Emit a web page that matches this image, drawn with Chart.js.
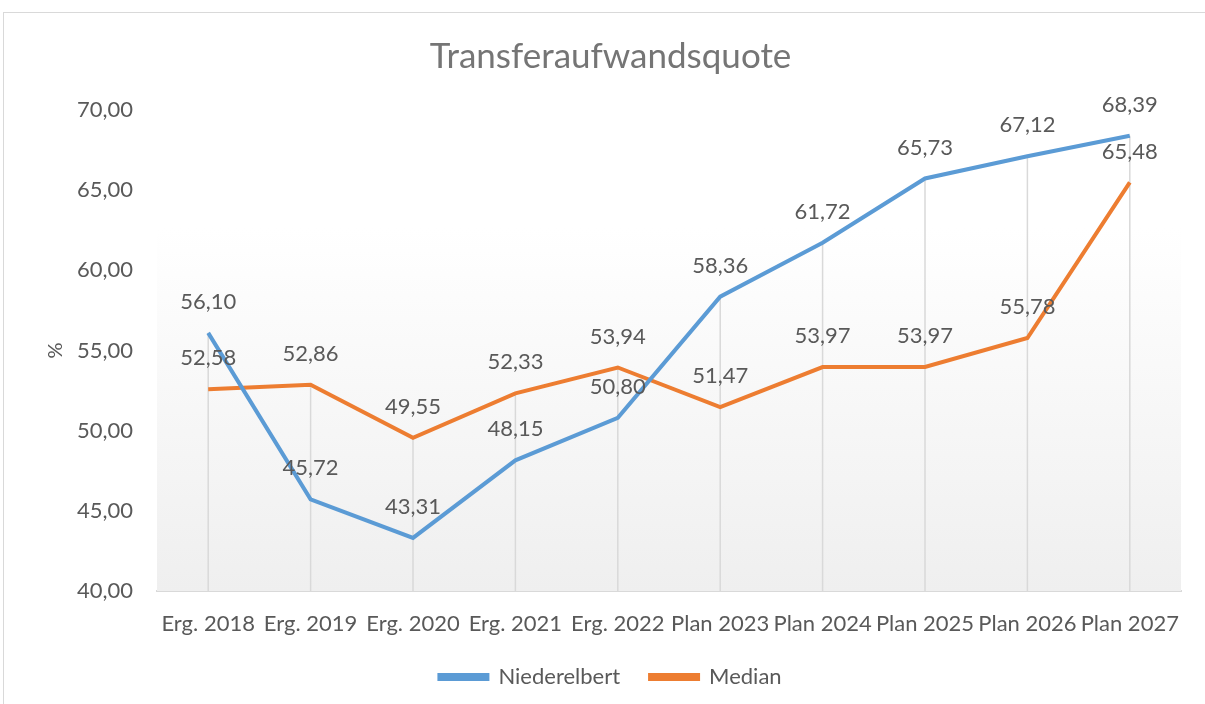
<!DOCTYPE html>
<html>
<head>
<meta charset="utf-8">
<script src="https://cdn.jsdelivr.net/npm/chart.js@4.4.0/dist/chart.umd.min.js"></script>
<style>
  html, body { margin: 0; padding: 0; background: #fff; overflow: hidden; }
  #frame { position: absolute; left: 3px; top: 12px; width: 1210px; height: 700px; border: 1px solid #d9d9d9; }
  #wrap { position: absolute; left: 0; top: 0; width: 1205px; height: 704px; }
</style>
</head>
<body>
<div id="frame"></div>
<div id="wrap"><canvas id="chart"></canvas></div>
<script>
const labels = ['Erg. 2018', 'Erg. 2019', 'Erg. 2020', 'Erg. 2021', 'Erg. 2022',
                'Plan 2023', 'Plan 2024', 'Plan 2025', 'Plan 2026', 'Plan 2027'];
const niederelbert = [56.10, 45.72, 43.31, 48.15, 50.80, 58.36, 61.72, 65.73, 67.12, 68.39];
const median = [52.58, 52.86, 49.55, 52.33, 53.94, 51.47, 53.97, 53.97, 55.78, 65.48];

const BLUE = '#5b9bd5';
const ORANGE = '#ed7d31';
const TEXT = '#595959';
const FONT = 'Lato, "Open Sans", sans-serif';

const fmt = v => v.toFixed(2).replace('.', ',');

// Hintergrund-Verlauf + Fallinien
const backdrop = {
  id: 'backdrop',
  beforeDatasetsDraw(chart) {
    const { ctx, chartArea: a, scales } = chart;
    const top = a.top + (a.bottom - a.top) * 0.245;
    const g = ctx.createLinearGradient(0, top, 0, a.bottom);
    g.addColorStop(0, '#ffffff');
    g.addColorStop(1, '#efefef');
    ctx.save();
    ctx.fillStyle = g;
    ctx.fillRect(a.left, top, a.right - a.left, a.bottom - top);

    ctx.strokeStyle = '#d9d9d9';
    ctx.lineWidth = 1.5;
    labels.forEach((l, i) => {
      const x = scales.x.getPixelForValue(i);
      const yMax = scales.y.getPixelForValue(Math.max(niederelbert[i], median[i]));
      ctx.beginPath();
      ctx.moveTo(x, a.bottom);
      ctx.lineTo(x, yMax);
      ctx.stroke();
    });
    ctx.restore();
  }
};

// Datenbeschriftungen über den Punkten
const valueLabels = {
  id: 'valueLabels',
  afterDatasetsDraw(chart) {
    const { ctx } = chart;
    ctx.save();
    ctx.font = '22px ' + FONT;
    ctx.fillStyle = TEXT;
    ctx.textAlign = 'center';
    ctx.textBaseline = 'middle';
    chart.data.datasets.forEach((ds, di) => {
      chart.getDatasetMeta(di).data.forEach((pt, i) => {
        ctx.fillText(fmt(ds.data[i]), pt.x, pt.y - 31);
      });
    });
    ctx.restore();
  }
};

new Chart(document.getElementById('chart'), {
  type: 'line',
  data: {
    labels,
    datasets: [
      { label: 'Niederelbert', data: niederelbert, borderColor: BLUE, backgroundColor: BLUE,
        borderWidth: 4, pointRadius: 0, tension: 0 },
      { label: 'Median', data: median, borderColor: ORANGE, backgroundColor: ORANGE,
        borderWidth: 4, pointRadius: 0, tension: 0 }
    ]
  },
  options: {
    responsive: true,
    maintainAspectRatio: false,
    animation: false,
    layout: { padding: { left: 40, right: 24, top: 0, bottom: 6 } },
    plugins: {
      title: {
        display: true,
        text: 'Transferaufwandsquote',
        color: '#757575',
        font: { family: FONT, size: 35, weight: 'normal' },
        padding: { top: 36, bottom: 32 }
      },
      legend: {
        position: 'bottom',
        labels: {
          color: TEXT,
          font: { family: FONT, size: 22 },
          boxWidth: 48,
          boxHeight: 4,
          padding: 30
        }
      },
      tooltip: { enabled: false }
    },
    scales: {
      x: {
        offset: true,
        grid: { display: false, drawTicks: false },
        border: { display: true, color: '#d9d9d9', width: 2 },
        ticks: { color: TEXT, font: { family: FONT, size: 22 }, padding: 20,
                 autoSkip: false, maxRotation: 0 },
        afterFit(s) { s.height = 45; }
      },
      y: {
        min: 40,
        max: 70,
        grid: { display: false, drawTicks: false },
        border: { display: false },
        ticks: { stepSize: 5, color: TEXT, font: { family: FONT, size: 22 }, padding: 24,
                 callback: v => fmt(v) },
        title: { display: true, text: '%', color: TEXT, font: { family: FONT, size: 20 } },
        afterFit(s) { s.width = 117; }
      }
    }
  },
  plugins: [backdrop, valueLabels]
});
</script>
</body>
</html>
